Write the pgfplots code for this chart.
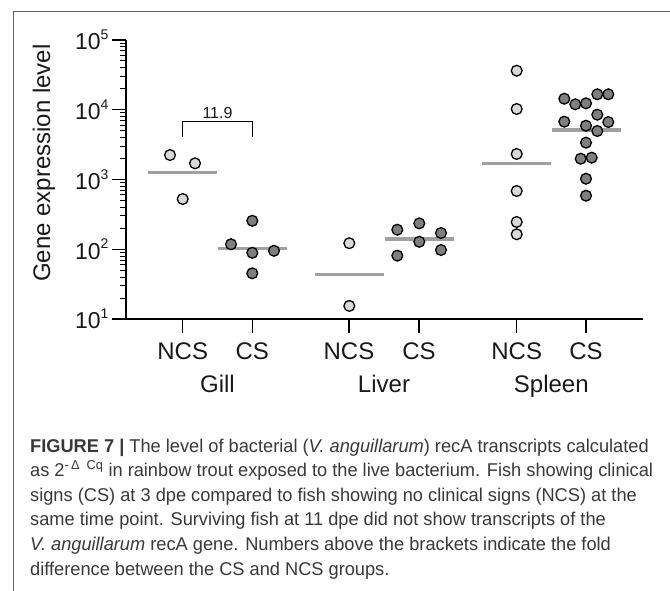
\documentclass[border=0pt]{standalone}
\usepackage{fontspec}
\setmainfont{Liberation Sans}
\newfontfamily\capfont{Liberation Sans}[FakeStretch=0.985]
\usepackage{pgfplots}
\pgfplotsset{compat=1.18}

\definecolor{ncsfill}{HTML}{D9D9D9}
\definecolor{csfill}{HTML}{7F7F7F}
\definecolor{medgray}{HTML}{A0A0A0}
\definecolor{framegray}{HTML}{606060}
\definecolor{captext}{HTML}{383838}

% 10^k tick labels in the text font
\newcommand{\tl}[1]{10\raisebox{0.45em}{\fontsize{14}{14}\selectfont #1}}

\begin{document}
\begin{tikzpicture}[x=1pt,y=1pt]
\useasboundingbox (0,0) rectangle (670,-591);
\draw[framegray, line width=1pt] (13,-591) -- (13,-12) -- (670,-12);

\begin{axis}[
  at={(126pt,-319pt)}, anchor=south west,
  scale only axis, width=517pt, height=279pt,
  xmin=126, xmax=643,
  ymode=log, ymin=10, ymax=100000,
  axis x line*=bottom, axis y line*=left,
  axis line style={line width=1.6pt, black},
  tick align=outside,
  xtick={182.7,252.3,349,419,516.7,586},
  xticklabels={NCS,CS,NCS,CS,NCS,CS},
  ytick={10,100,1000,10000,100000},
  yticklabels={\tl{1},\tl{2},\tl{3},\tl{4},\tl{5}},
  minor ytick={20,30,40,50,60,70,80,90,
    200,300,400,500,600,700,800,900,
    2000,3000,4000,5000,6000,7000,8000,9000,
    20000,30000,40000,50000,60000,70000,80000,90000},
  major tick length=14pt, minor tick length=6pt,
  tick style={line width=1.3pt, black},
  minor tick style={line width=1pt, black},
  yticklabel style={font=\fontsize{23}{23}\selectfont, text=black!90},
  xticklabel style={font=\fontsize{24}{24}\selectfont, text=black!90, yshift=-6pt},
  ylabel={Gene expression level},
  ylabel style={font=\fontsize{24}{24}\selectfont, text=black!90,
    at={(axis description cs:-0.1586,0.559)}, anchor=center},
  clip=false,
]
% NCS groups
\addplot[only marks, mark=*, mark size=5.4pt,
  mark options={fill=ncsfill, draw=black, line width=1.3pt}] coordinates {
  (170,2244) (195,1706) (182.7,525)
  (349.3,122) (349.3,15.4)
  (516.7,36300) (516.7,10250) (516.7,2323) (516.7,684) (516.7,246) (516.7,164)
};
% CS groups
\addplot[only marks, mark=*, mark size=5.4pt,
  mark options={fill=csfill, draw=black, line width=1.3pt}] coordinates {
  (252.3,256) (231,118) (252.3,89) (274,95) (252.3,45.2)
  (397.3,190.5) (419.3,235) (441,171) (419.3,128) (397.3,80.9) (441,97.5)
  (564.3,14390) (575.3,11970) (586,12360) (597.3,16670) (608.3,16670)
  (597.3,8490) (564.3,6745) (586,5906) (608.3,6663) (597.3,4955)
  (586,3374) (580.7,1986) (591.7,2056) (586,1026) (586,586)
};
% medians
\addplot[medgray, line width=3.4pt] coordinates {(148,1250) (217,1250)};
\addplot[medgray, line width=3.4pt] coordinates {(218,103) (287,103)};
\addplot[medgray, line width=3.4pt] coordinates {(315,43.2) (384,43.2)};
\addplot[medgray, line width=3.4pt] coordinates {(385,140) (454,140)};
\addplot[medgray, line width=3.4pt] coordinates {(482,1687) (551,1687)};
\addplot[medgray, line width=3.4pt] coordinates {(552,5129) (621,5129)};

% fold-difference bracket
\draw[line width=1.3pt] (axis cs:182.7,4030) |- (axis cs:252.3,6745) -- (axis cs:252.3,4030);
\node[font=\fontsize{16}{16}\selectfont, text=black!90] at (axis cs:217.5,6745) [yshift=8.7pt] {11.9};

% tissue names
\node[anchor=base, font=\fontsize{24}{24}\selectfont, text=black!90] at (axis cs:217.5,10) [yshift=-73.7pt] {Gill};
\node[anchor=base, font=\fontsize{24}{24}\selectfont, text=black!90] at (axis cs:384,10) [yshift=-73.7pt] {Liver};
\node[anchor=base, font=\fontsize{24}{24}\selectfont, text=black!90] at (axis cs:551.3,10) [yshift=-73.7pt] {Spleen};
\end{axis}

\begin{scope}[every node/.style={anchor=base west, inner sep=0pt, text=captext,
    font=\capfont\fontsize{18.5}{18.5}\selectfont}]
\node at (30,-452) {\textbf{FIGURE 7 |} The level of bacterial (\textit{V. anguillarum}) recA transcripts calculated};
\node at (30,-476) {as 2\textsuperscript{-\,Δ\ \ Cq} in rainbow trout exposed to the live bacterium. Fish showing clinical};
\node at (30,-501) {signs (CS) at 3 dpe compared to fish showing no clinical signs (NCS) at the};
\node at (30,-525.5) {same time point. Surviving fish at 11 dpe did not show transcripts of the};
\node at (30,-550) {\textit{V. anguillarum} recA gene. Numbers above the brackets indicate the fold};
\node at (30,-575) {difference between the CS and NCS groups.};
\end{scope}
\end{tikzpicture}
\end{document}
